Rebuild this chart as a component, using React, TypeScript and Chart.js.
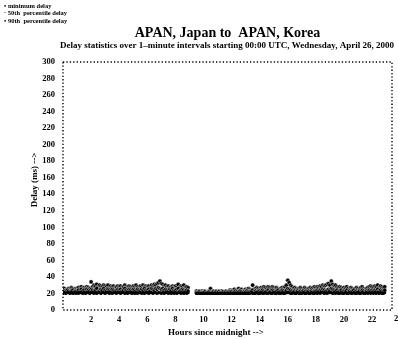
import React, { useEffect, useRef } from "react";
import { Chart, registerables } from "chart.js";

Chart.register(...registerables);

const TITLE = "APAN, Japan to  APAN, Korea";
const SUBTITLE =
  "Delay statistics over 1\u2013minute intervals starting 00:00 UTC, Wednesday, April 26, 2000";
const X_TITLE = "Hours since midnight -->";
const Y_TITLE = "Delay (ms) -->";
const LEGEND = ["\u2022 minimum delay", "\u00b7 50th  percentile delay", "\u2022 90th  percentile delay"];

const Y_TICKS = [0, 20, 40, 60, 80, 100, 120, 140, 160, 180, 200, 220, 240, 260, 280, 300];
const X_TICKS = [2, 4, 6, 8, 10, 12, 14, 16, 18, 20, 22, 24];

// sample times: every 0.1 hour from 0.0 to 22.9
const HOURS = Array.from({ length: 230 }, (_, i) => i / 10);

const N = null;
const P90 = [
  25, 26, 24, 25, 26, 25, 27, 26, 25, 26,
  26, 27, 25, 28, 26, 27, 26, 28, 27, 26,
  34, 28, 30, 29, 31, 28, 30, 29, 28, 30,
  29, 28, 30, 27, 29, 28, 29, 27, 28, 29,
  28, 29, 27, 28, 30, 28, 27, 29, 28, 27,
  29, 28, 30, 28, 27, 29, 28, 30, 28, 29,
  28, 29, 27, 30, 29, 31, 30, 32, 33, 35,
  32, 31, 29, 30, 28, 29, 27, 28, 29, 28,
  29, 28, 31, 27, 29, 28, 30, 27, 28, 27,
  N, N, N, N, N, 23, 22, 23, 22, 23,
  22, 23, 22, 22, 23, 26, 22, 23, 22, 23,
  22, 23, 22, 23, 22, 22, 23, 22, 23, 24,
  23, 24, 25, 23, 24, 26, 24, 25, 23, 24,
  25, 24, 26, 25, 24, 30, 25, 26, 27, 26,
  25, 27, 26, 28, 27, 26, 28, 27, 26, 28,
  27, 26, 27, 26, 25, 26, 27, 26, 28, 30,
  36, 33, 30, 28, 26, 27, 26, 25, 26, 27,
  26, 25, 27, 26, 25, 26, 27, 26, 27, 28,
  27, 28, 27, 29, 28, 30, 29, 30, 31, 32,
  30, 35, 31, 29, 30, 28, 27, 28, 27, 26,
  27, 26, 28, 26, 25, 27, 26, 25, 26, 27,
  26, 25, 27, 28, 26, 25, 26, 27, 28, 29,
  28, 27, 29, 28, 30, 27, 29, 28, 27, 28,
];
const P50 = [
  22, 23, 22, 24, 23, 22, 23, 24, 22, 23,
  23, 24, 22, 25, 23, 24, 22, 25, 24, 23,
  25, 24, 23, 24, 26, 22, 23, 25, 24, 26,
  24, 23, 25, 24, 23, 25, 24, 23, 24, 25,
  24, 25, 23, 24, 26, 24, 23, 25, 24, 23,
  25, 24, 23, 25, 24, 23, 25, 24, 26, 24,
  24, 25, 23, 26, 25, 24, 26, 25, 27, 26,
  25, 26, 24, 25, 24, 23, 25, 24, 26, 24,
  24, 25, 26, 23, 24, 25, 24, 23, 24, 23,
  N, N, N, N, N, 21, 21, 22, 21, 21,
  21, 22, 21, 21, 22, 21, 21, 22, 21, 22,
  21, 22, 21, 21, 22, 21, 22, 21, 22, 22,
  22, 21, 22, 23, 22, 22, 23, 22, 21, 22,
  22, 23, 22, 22, 23, 24, 22, 23, 22, 23,
  23, 22, 24, 23, 22, 23, 24, 22, 23, 24,
  23, 22, 23, 24, 22, 23, 24, 23, 22, 24,
  26, 25, 24, 23, 22, 23, 22, 23, 22, 23,
  22, 23, 22, 23, 22, 23, 22, 23, 22, 23,
  23, 24, 23, 24, 23, 25, 24, 23, 24, 25,
  24, 26, 25, 24, 23, 24, 22, 23, 24, 22,
  23, 22, 24, 22, 23, 22, 23, 24, 22, 23,
  22, 23, 22, 24, 23, 22, 23, 22, 24, 23,
  24, 23, 24, 23, 25, 23, 24, 23, 22, 24,
];
const MIN = [
  20, 21, 20, 21, 21, 20, 21, 20, 21, 20,
  21, 20, 21, 21, 20, 21, 20, 21, 21, 20,
  21, 21, 20, 21, 20, 21, 21, 20, 21, 21,
  20, 21, 21, 20, 21, 20, 21, 21, 20, 21,
  21, 20, 21, 21, 20, 21, 20, 21, 21, 20,
  21, 20, 21, 20, 21, 21, 20, 21, 20, 21,
  21, 20, 21, 21, 20, 21, 21, 20, 21, 21,
  20, 21, 20, 21, 21, 20, 21, 20, 21, 20,
  21, 20, 21, 21, 20, 21, 20, 21, 20, 21,
  N, N, N, N, N, 20, 20, 20, 20, 20,
  20, 20, 20, 20, 20, 20, 20, 20, 20, 20,
  20, 20, 20, 20, 20, 20, 20, 20, 20, 20,
  20, 20, 20, 20, 20, 20, 20, 20, 20, 20,
  20, 20, 20, 20, 21, 20, 20, 20, 21, 20,
  20, 21, 20, 20, 21, 20, 20, 21, 20, 20,
  21, 20, 20, 21, 20, 20, 21, 20, 20, 21,
  21, 21, 20, 20, 21, 20, 20, 21, 20, 20,
  20, 21, 20, 20, 21, 20, 20, 21, 20, 20,
  21, 20, 21, 20, 21, 21, 20, 21, 20, 21,
  21, 21, 20, 21, 20, 21, 20, 20, 21, 20,
  20, 21, 20, 20, 21, 20, 20, 21, 20, 20,
  21, 20, 20, 21, 20, 20, 21, 20, 21, 20,
  21, 20, 21, 20, 21, 20, 21, 20, 20, 21,
];

const SERIF = '"Liberation Serif", "DejaVu Serif", serif';

function toPoints(vals: (number | null)[]) {
  const out: { x: number; y: number }[] = [];
  vals.forEach((v, i) => {
    if (v !== null) out.push({ x: HOURS[i], y: v });
  });
  return out;
}

export default function App() {
  const ref = useRef<HTMLCanvasElement | null>(null);

  useEffect(() => {
    document.body.style.margin = "0";
    const canvas = ref.current;
    if (!canvas) return;

    const decor = {
      id: "decor",
      afterDraw(chart: any) {
        const ctx = chart.ctx;
        const a = chart.chartArea;
        const xs = chart.scales.x;
        ctx.save();
        // dotted frame
        ctx.strokeStyle = "#000";
        ctx.lineWidth = 1.4;
        ctx.setLineDash([1.3, 2.1]);
        ctx.strokeRect(a.left, a.top, a.right - a.left, a.bottom - a.top);
        ctx.setLineDash([]);
        ctx.fillStyle = "#000";
        // title
        ctx.textAlign = "center";
        ctx.textBaseline = "middle";
        ctx.font = `bold 14px ${SERIF}`;
        ctx.fillText(TITLE, (a.left + a.right) / 2, 33);
        // subtitle
        ctx.font = `bold 9px ${SERIF}`;
        ctx.textAlign = "left";
        ctx.fillText(SUBTITLE, 60, 46, 337);
        // extra tick label beyond plot
        ctx.textAlign = "center";
        ctx.textBaseline = "top";
        ctx.font = `bold 8.5px ${SERIF}`;
        ctx.fillText(String(X_TICKS[X_TICKS.length - 1]), xs.getPixelForValue(24) - 2, a.bottom + 5);
        // x title
        ctx.textBaseline = "middle";
        ctx.font = `bold 9px ${SERIF}`;
        ctx.fillText(X_TITLE, 216, 333);
        // y title
        ctx.save();
        ctx.translate(35, 180);
        ctx.rotate(-Math.PI / 2);
        ctx.fillText(Y_TITLE, 0, 0);
        ctx.restore();
        // legend
        ctx.textAlign = "left";
        ctx.font = `bold 6.5px ${SERIF}`;
        LEGEND.forEach((t, i) => ctx.fillText(t, 4, 6 + i * 7.5));
        ctx.restore();
      },
    };

    const chart = new Chart(canvas, {
      type: "scatter",
      data: {
        datasets: [
          {
            label: "minimum delay",
            data: toPoints(MIN),
            pointStyle: "circle",
            pointRadius: 1.6,
            backgroundColor: "#000",
            borderColor: "#000",
            borderWidth: 0,
          },
          {
            label: "50th percentile delay",
            data: toPoints(P50),
            pointStyle: "circle",
            pointRadius: 2.1,
            backgroundColor: "#000",
            borderColor: "#fff",
            borderWidth: 0.4,
          },
          {
            label: "90th percentile delay",
            data: toPoints(P90),
            pointStyle: "circle",
            pointRadius: 2.1,
            backgroundColor: "#000",
            borderColor: "#fff",
            borderWidth: 0.4,
          },
        ],
      },
      options: {
        responsive: false,
        animation: false,
        events: [],
        layout: { padding: { top: 62, right: 6, bottom: 0, left: 0 } },
        plugins: {
          legend: { display: false },
          title: { display: false },
          tooltip: { enabled: false },
        },
        scales: {
          x: {
            type: "linear",
            min: 0,
            max: 23.42,
            afterFit: (s: any) => {
              s.height = 29;
            },
            afterBuildTicks: (s: any) => {
              s.ticks = X_TICKS.filter((v) => v <= 23.42).map((v) => ({ value: v }));
            },
            grid: { display: false, drawTicks: false },
            border: { display: false },
            ticks: {
              color: "#000",
              padding: 5,
              maxRotation: 0,
              autoSkip: false,
              font: { family: SERIF, size: 8.5, weight: "bold" },
            },
          },
          y: {
            min: 0,
            max: 300,
            afterFit: (s: any) => {
              s.width = 63;
            },
            afterBuildTicks: (s: any) => {
              s.ticks = Y_TICKS.map((v) => ({ value: v }));
            },
            grid: { display: false, drawTicks: false },
            border: { display: false },
            ticks: {
              color: "#000",
              padding: 8,
              autoSkip: false,
              font: { family: SERIF, size: 8.5, weight: "bold" },
            },
          },
        },
      },
      plugins: [decor],
    } as any);

    return () => chart.destroy();
  }, []);

  return (
    <div style={{ width: 398, height: 339, background: "#fff" }}>
      <canvas ref={ref} width={398} height={339} style={{ display: "block" }} />
    </div>
  );
}
